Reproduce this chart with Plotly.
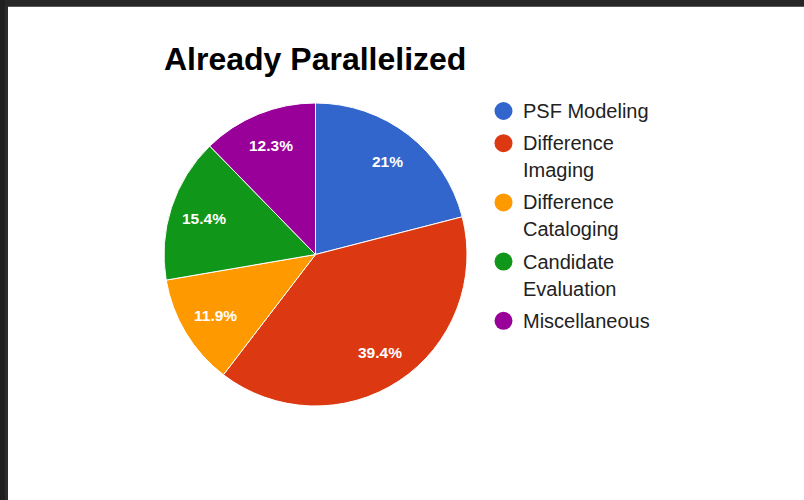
import math
import textwrap
import plotly.graph_objects as go

# Share of processing time per pipeline stage (percent)
categories = ["PSF Modeling", "Difference Imaging", "Difference Cataloging",
              "Candidate Evaluation", "Miscellaneous"]
shares = [21, 39.4, 11.9, 15.4, 12.3]
colors = ["#3366cc", "#dc3912", "#ff9900", "#109618", "#990099"]
title_text = "Already Parallelized"

W, H = 804, 500
FONT = "Liberation Sans, Arial, Helvetica, sans-serif"

# pie geometry in pixels
cx, cy, R = 315.5, 254.5, 151.5


def px(x):
    return x / W


def py(y):
    return 1 - y / H


fig = go.Figure()
fig.add_trace(go.Pie(
    labels=categories,
    values=shares,
    marker=dict(colors=colors, line=dict(color="white", width=1)),
    sort=False,
    direction="clockwise",
    rotation=0,
    textinfo="none",
    hoverinfo="label+percent",
    showlegend=False,
    domain=dict(x=[px(cx - R), px(cx + R)], y=[py(cy + R), py(cy - R)]),
))

annotations = []
# slice labels placed along each slice's mid-angle
total = sum(shares)
acc = 0.0
for v in shares:
    mid = (acc + v / 2) / total * 2 * math.pi
    acc += v
    r = 0.775 * R
    lx = cx + r * math.sin(mid)
    ly = cy - r * math.cos(mid)
    annotations.append(dict(
        x=px(lx), y=py(ly), xref="paper", yref="paper",
        text=f"{v:g}%", showarrow=False, xanchor="center", yanchor="middle",
        font=dict(family=FONT, size=15.5, color="white", weight="bold"),
    ))

# title
annotations.append(dict(
    x=px(162), y=py(59), xref="paper", yref="paper", text=f"<b>{title_text}</b>",
    showarrow=False, xanchor="left", yanchor="middle",
    font=dict(family=FONT, size=32, color="#000000"),
))

# legend: coloured dots with wrapped names
shapes = []
y = 111
for name, col in zip(categories, colors):
    lines = textwrap.wrap(name, width=12, break_long_words=False)
    shapes.append(dict(
        type="circle", xref="paper", yref="paper",
        x0=px(503.5 - 9), x1=px(503.5 + 9), y0=py(y + 9), y1=py(y - 9),
        fillcolor=col, line=dict(width=0),
    ))
    for i, ln in enumerate(lines):
        annotations.append(dict(
            x=px(521), y=py(y), xref="paper", yref="paper", text=ln,
            showarrow=False, xanchor="left", yanchor="middle",
            font=dict(family=FONT, size=20, color="#222222"),
        ))
        if i < len(lines) - 1:
            y += 27
    y += 32.2

# dark window frame along the top and left edges
shapes += [
    dict(type="rect", xref="paper", yref="paper", x0=0, x1=1, y0=py(6), y1=1,
         fillcolor="#262626", line=dict(width=0), layer="above"),
    dict(type="rect", xref="paper", yref="paper", x0=0, x1=1, y0=py(7), y1=py(6),
         fillcolor="#5a5a5a", line=dict(width=0), layer="above"),
    dict(type="rect", xref="paper", yref="paper", x0=0, x1=px(5), y0=0, y1=1,
         fillcolor="#1f1f1f", line=dict(width=0), layer="above"),
    dict(type="rect", xref="paper", yref="paper", x0=px(5), x1=px(8), y0=0, y1=py(6),
         fillcolor="#2c2c2c", line=dict(width=0), layer="above"),
]

fig.update_layout(
    width=W, height=H,
    margin=dict(l=0, r=0, t=0, b=0),
    paper_bgcolor="white",
    plot_bgcolor="white",
    annotations=annotations,
    shapes=shapes,
    showlegend=False,
)

fig.write_html("out.html")
